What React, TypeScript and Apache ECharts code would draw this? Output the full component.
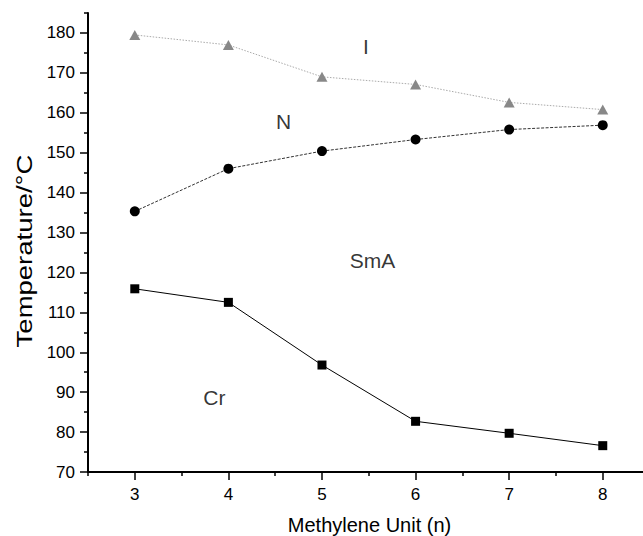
import React, { useEffect, useRef } from "react";
import * as echarts from "echarts";

const METHYLENE = [3, 4, 5, 6, 7, 8];
const CR_TEMP = [115.9, 112.5, 96.8, 82.7, 79.7, 76.6];
const N_TEMP = [135.3, 146.0, 150.4, 153.3, 155.8, 156.9];
const I_TEMP = [179.5, 177.0, 169.0, 167.1, 162.6, 160.8];

const X_TICKS = [3, 4, 5, 6, 7, 8];
const X_MINOR = [2.5, 3.5, 4.5, 5.5, 6.5, 7.5];
const Y_TICKS = [70, 80, 90, 100, 110, 120, 130, 140, 150, 160, 170, 180];
const Y_MINOR = [75, 85, 95, 105, 115, 125, 135, 145, 155, 165, 175, 185];

const PHASE_LABELS = ["I", "N", "SmA", "Cr"];
const PHASE_X = [5.47, 4.59, 5.54, 3.85];
const PHASE_Y = [176.5, 157.8, 123.0, 88.6];

const X_TITLE = "Methylene Unit (n)";
const Y_TITLE = "Temperature/°C";

const FONT = "'Liberation Sans', Arial, Helvetica, sans-serif";

export default function App() {
  const ref = useRef<HTMLDivElement>(null);
  useEffect(() => {
    if (!ref.current) return;
    const chart = echarts.init(ref.current, null, { renderer: "svg" });
    const xMin = 2.5;
    const xMax = 8.43;
    const yMin = 70;
    const yMax = 185;
    const axisCommon = {
      type: "value",
      splitLine: { show: false },
    };
    chart.setOption({
      animation: false,
      backgroundColor: "#ffffff",
      textStyle: { fontFamily: FONT },
      grid: { left: 88, top: 13, right: 0, bottom: 64, outerBoundsMode: "none" },
      xAxis: [
        {
          ...axisCommon,
          position: "bottom",
          min: xMin,
          max: xMax,
          axisLine: { show: true, onZero: false, lineStyle: { color: "#000", width: 2 } },
          axisTick: {
            show: true,
            length: 8,
            customValues: X_TICKS,
            lineStyle: { color: "#000", width: 1.5 },
          },
          axisLabel: {
            show: true,
            customValues: X_TICKS,
            margin: 14,
            fontSize: 17,
            color: "#000",
            fontFamily: FONT,
          },
        },
        {
          ...axisCommon,
          position: "bottom",
          min: xMin,
          max: xMax,
          axisLine: { show: false, onZero: false },
          axisTick: {
            show: true,
            length: 4,
            customValues: X_MINOR,
            lineStyle: { color: "#000", width: 1.5 },
          },
          axisLabel: { show: false },
        },
      ],
      yAxis: [
        {
          ...axisCommon,
          position: "left",
          min: yMin,
          max: yMax,
          interval: 10,
          axisLine: { show: true, onZero: false, lineStyle: { color: "#000", width: 2 } },
          axisTick: {
            show: true,
            length: 8,
            customValues: Y_TICKS,
            lineStyle: { color: "#000", width: 1.5 },
          },
          axisLabel: {
            show: true,
            customValues: Y_TICKS,
            margin: 13,
            fontSize: 17,
            color: "#000",
            fontFamily: FONT,
          },
        },
        {
          ...axisCommon,
          position: "left",
          min: yMin,
          max: yMax,
          axisLine: { show: false, onZero: false },
          axisTick: {
            show: true,
            length: 4,
            customValues: Y_MINOR,
            lineStyle: { color: "#000", width: 1.5 },
          },
          axisLabel: { show: false },
        },
      ],
      series: [
        {
          name: "Cr",
          type: "line",
          xAxisIndex: 0,
          yAxisIndex: 0,
          data: METHYLENE.map((x, i) => [x, CR_TEMP[i]]),
          symbol: "rect",
          symbolSize: 9,
          showSymbol: true,
          itemStyle: { color: "#000" },
          lineStyle: { color: "#000", width: 1 },
          z: 3,
        },
        {
          name: "N",
          type: "line",
          xAxisIndex: 0,
          yAxisIndex: 0,
          data: METHYLENE.map((x, i) => [x, N_TEMP[i]]),
          symbol: "circle",
          symbolSize: 10,
          itemStyle: { color: "#000" },
          lineStyle: { color: "#333", width: 1, type: [3, 1.5] },
          z: 3,
        },
        {
          name: "I",
          type: "line",
          xAxisIndex: 0,
          yAxisIndex: 0,
          data: METHYLENE.map((x, i) => [x, I_TEMP[i]]),
          symbol: "triangle",
          symbolSize: [11, 10],
          itemStyle: { color: "#888" },
          lineStyle: { color: "#aaa", width: 1, type: [1.5, 1.5] },
          z: 3,
        },
        {
          name: "phases",
          type: "scatter",
          xAxisIndex: 0,
          yAxisIndex: 0,
          symbolSize: 1,
          itemStyle: { color: "rgba(0,0,0,0)" },
          data: PHASE_X.map((x, i) => ({ value: [x, PHASE_Y[i]], name: PHASE_LABELS[i] })),
          label: {
            show: true,
            position: "inside",
            formatter: "{b}",
            fontSize: 21,
            color: "#000",
            fontFamily: FONT,
          },
          silent: true,
          z: 4,
        },
      ],
      graphic: [
        {
          type: "text",
          x: 369.5,
          y: 525,
          style: {
            text: X_TITLE,
            font: `20px ${FONT}`,
            fill: "#000",
            align: "center",
            verticalAlign: "middle",
          },
        },
        {
          type: "text",
          x: 24.5,
          y: 251,
          rotation: Math.PI / 2,
          scaleX: 1.25,
          style: {
            text: Y_TITLE,
            font: `22px ${FONT}`,
            fill: "#000",
            align: "center",
            verticalAlign: "middle",
          },
        },
      ],
    });
    return () => {
      chart.dispose();
    };
  }, []);
  return (
    <div
      ref={ref}
      style={{ position: "absolute", left: 0, top: 0, width: 643, height: 536 }}
    />
  );
}
